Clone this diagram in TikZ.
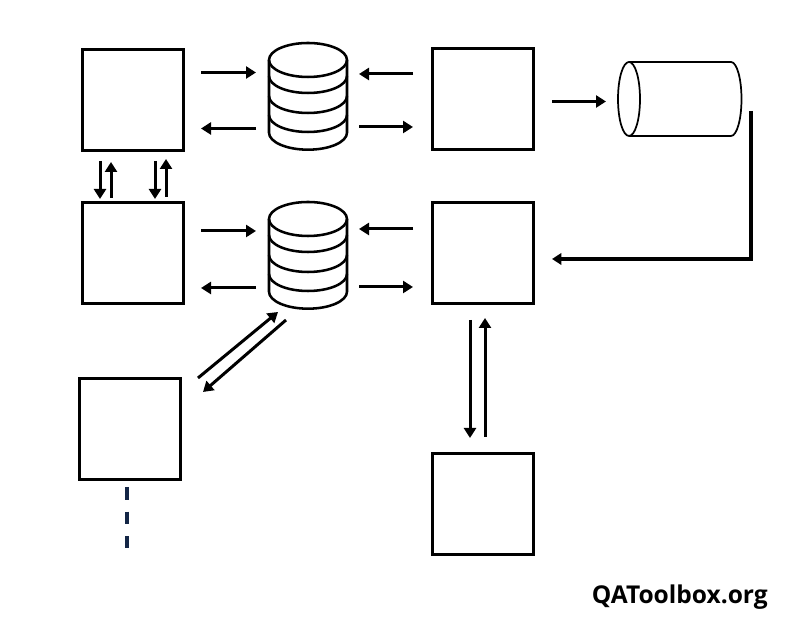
\documentclass[tikz,border=0pt]{standalone}
\usepackage{fontspec}
\setmainfont{Open Sans}
\usetikzlibrary{arrows.meta}

\begin{document}
\begin{tikzpicture}[
    x=0.75pt, y=0.75pt,
    box/.style={rectangle, draw, line width=2.25pt, minimum size=75.75pt, inner sep=0pt},
    flow/.style={-{Triangle[length=7.5pt,width=9pt]}, line width=2.25pt},
    layer/.style={line width=1.9pt},
    tape/.style={line width=1.3pt}
]
\useasboundingbox (0,0) rectangle (800,634);

% Boxes
\node[box] at (132.5,534) (boxA) {};
\node[box] at (132.5,381) (boxB) {};
\node[box] at (483,535) (boxC) {};
\node[box] at (483,381) (boxD) {};
\node[box] at (130,205) (boxE) {};
\node[box] at (483,130) (boxF) {};

% Databases
\foreach \y in {574,415} {
    \draw[layer] (308,\y) ellipse (39 and 17);
    \draw[layer] (269,\y) -- (269,\y-72.7) arc (180:360:39 and 17) -- (347,\y);
    \draw[layer] (269,\y-16) arc (180:360:39 and 17);
    \draw[layer] (269,\y-36) arc (180:360:39 and 17);
    \draw[layer] (269,\y-55) arc (180:360:39 and 17);
}

% Tape
\draw[tape] (629,535) ellipse (11 and 37);
\draw[tape] (629,572) -- (731,572) arc (90:-90:10.5 and 37) -- (629,498);

% Arrow ends, top row
\coordinate (a1) at (201,561.5);
\coordinate (a2) at (256,561.5);
\coordinate (a3) at (256,505.5);
\coordinate (a4) at (201,505.5);
\coordinate (a5) at (413,560);
\coordinate (a6) at (359,560);
\coordinate (a7) at (359,507);
\coordinate (a8) at (413,507);
\coordinate (a9) at (552,532.5);
\coordinate (a10) at (606,532.5);
\draw[flow] (a1) -- (a2);
\draw[flow] (a3) -- (a4);
\draw[flow] (a5) -- (a6);
\draw[flow] (a7) -- (a8);
\draw[flow] (a9) -- (a10);

% Arrow ends, middle row
\coordinate (b1) at (201,403);
\coordinate (b2) at (256,403);
\coordinate (b3) at (256,346);
\coordinate (b4) at (201,346);
\coordinate (b5) at (413,405);
\coordinate (b6) at (359,405);
\coordinate (b7) at (359,347);
\coordinate (b8) at (413,347);
\draw[flow] (b1) -- (b2);
\draw[flow] (b3) -- (b4);
\draw[flow] (b5) -- (b6);
\draw[flow] (b7) -- (b8);

% Between top and middle box
\coordinate (c1) at (100,473);
\coordinate (c2) at (100,435);
\coordinate (c3) at (111,436);
\coordinate (c4) at (111,472);
\coordinate (c5) at (155,473);
\coordinate (c6) at (155,435);
\coordinate (c7) at (166,437);
\coordinate (c8) at (166,475);
\draw[flow] (c1) -- (c2);
\draw[flow] (c3) -- (c4);
\draw[flow] (c5) -- (c6);
\draw[flow] (c7) -- (c8);

% Diagonal pair
\coordinate (d1) at (198,256);
\coordinate (d2) at (278,322);
\coordinate (d3) at (286,314);
\coordinate (d4) at (203,242);
\draw[flow] (d1) -- (d2);
\draw[flow] (d3) -- (d4);

% Vertical pair
\coordinate (e1) at (470,314);
\coordinate (e2) at (470,196);
\coordinate (e3) at (485,197);
\coordinate (e4) at (485,316);
\draw[flow] (e1) -- (e2);
\draw[flow] (e3) -- (e4);

% Thick return line
\coordinate (f1) at (751,523);
\coordinate (f2) at (751,375);
\coordinate (f3) at (552,375);
\draw[-{Triangle[length=7pt,width=8.5pt]}, line width=3pt] (f1) -- (f2) -- (f3);

% Dashed stub
\coordinate (g1) at (127,147);
\coordinate (g2) at (127,86);
\draw[draw={rgb,255:red,20;green,38;blue,70}, line width=3.7pt, dash pattern=on 9.4pt off 9pt] (g1) -- (g2);

% Site name
\node[anchor=base east, inner sep=0pt, font=\fontsize{18.4pt}{22pt}\selectfont\bfseries] at (768,30) (site) {QAToolbox.org};

\end{tikzpicture}
\end{document}
